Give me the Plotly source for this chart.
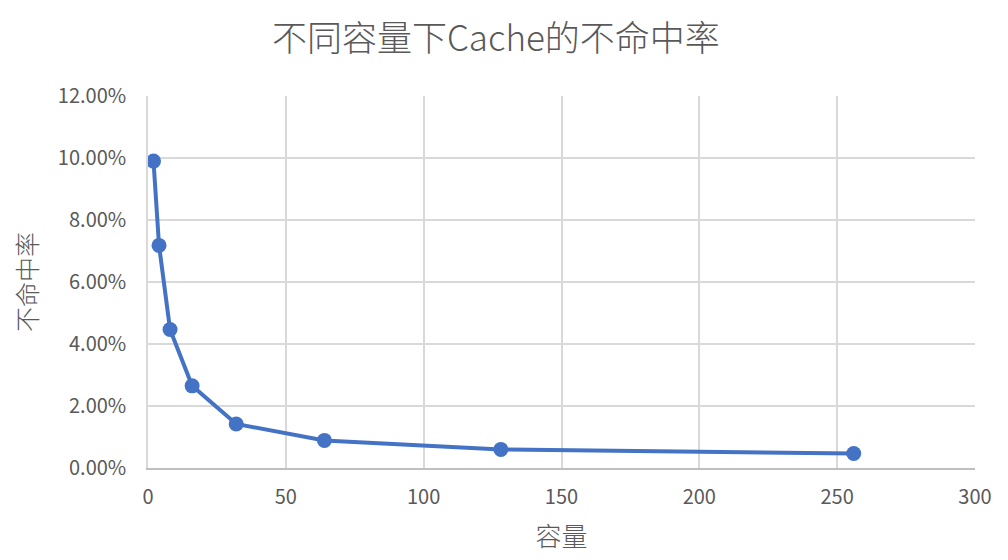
import plotly.graph_objects as go

capacity = [2, 4, 8, 16, 32, 64, 128, 256]
miss_rate = [0.0990, 0.0718, 0.0447, 0.0265, 0.0142, 0.0089, 0.0060, 0.0047]

title_text = "不同容量下Cache的不命中率"
x_title = "容量"
y_title = "不命中率"
y_ticks = [0, 0.02, 0.04, 0.06, 0.08, 0.10, 0.12]
x_ticks = [0, 50, 100, 150, 200, 250, 300]

FONT = "Noto Sans CJK SC"
TXT = "#595959"

fig = go.Figure(go.Scatter(
    x=capacity, y=miss_rate, mode="lines+markers",
    line=dict(color="#4472C4", width=4),
    marker=dict(color="#4472C4", size=15),
    showlegend=False,
))

fig.update_layout(
    width=1008, height=560,
    margin=dict(l=140, r=41, t=88, b=100),
    paper_bgcolor="white", plot_bgcolor="white",
    font=dict(family=FONT, color=TXT),
    title=dict(text=title_text, x=0.484, xanchor="center", y=0.9455, yanchor="middle",
               font=dict(size=35, color=TXT, family=FONT, weight=300)),
)
fig.update_xaxes(
    range=[0, 300], tickvals=x_ticks, ticktext=[str(v) for v in x_ticks],
    showgrid=True, gridcolor="#d9d9d9", gridwidth=1.5,
    zeroline=False, showline=True, linecolor="#bfbfbf", linewidth=1.8,
    ticks="", tickfont=dict(size=20, color=TXT), ticklabelstandoff=10,
    title=dict(text=x_title, font=dict(size=26, color=TXT, weight=300), standoff=19),
)
fig.update_yaxes(
    range=[0, 0.12], tickvals=y_ticks, ticktext=[f"{v*100:.2f}%" for v in y_ticks],
    showgrid=True, gridcolor="#d9d9d9", gridwidth=1.5,
    zeroline=False, showline=True, linecolor="#d9d9d9", linewidth=1.5,
    ticks="", tickfont=dict(size=20, color=TXT), ticklabelstandoff=16,
    title=dict(text=y_title, font=dict(size=25, color=TXT, weight=300), standoff=19),
)

fig.write_html("out.html")
